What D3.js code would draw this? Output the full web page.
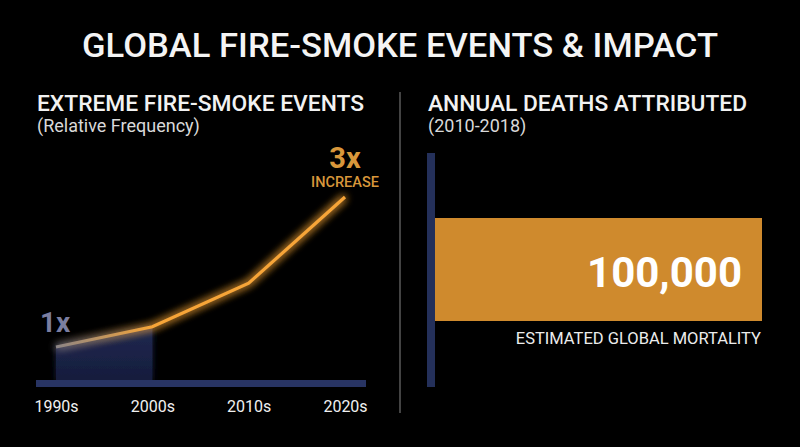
<!DOCTYPE html>
<html><head><meta charset="utf-8">
<script src="https://cdn.jsdelivr.net/npm/d3@7"></script>
<style>html,body{margin:0;padding:0;background:#000;}svg{display:block;font-family:Roboto,"Noto Sans",sans-serif;}</style>
</head><body>
<script>
const decades = ["1990s","2000s","2010s","2020s"];
const relFrequency = [1, 1.27, 1.85, 3];
const deathsCategory = ["Estimated global mortality"];
const deathsValue = [100000];

const W = 800, H = 447;
const svg = d3.select("body").append("svg").attr("width", W).attr("height", H);
svg.append("rect").attr("width", W).attr("height", H).attr("fill", "#000");

const defs = svg.append("defs");
const glow = defs.append("filter").attr("id","glow").attr("x","-20%").attr("y","-20%").attr("width","140%").attr("height","140%");
glow.append("feGaussianBlur").attr("stdDeviation", 4).attr("result","b");
const m = glow.append("feMerge");
m.append("feMergeNode").attr("in","b");
m.append("feMergeNode").attr("in","b");
m.append("feMergeNode").attr("in","SourceGraphic");

const softGlow = defs.append("filter").attr("id","soft").attr("x","-20%").attr("y","-20%").attr("width","140%").attr("height","140%");
softGlow.append("feGaussianBlur").attr("stdDeviation", 3).attr("result","b");
const m2 = softGlow.append("feMerge");
m2.append("feMergeNode").attr("in","b");
m2.append("feMergeNode").attr("in","SourceGraphic");

const areaGrad = defs.append("linearGradient").attr("id","areaGrad").attr("x1",0).attr("y1",0).attr("x2",0).attr("y2",1);
areaGrad.append("stop").attr("offset","0%").attr("stop-color","#1f2851");
areaGrad.append("stop").attr("offset","100%").attr("stop-color","#161d3c");

// Title
svg.append("text").attr("x", 400).attr("y", 57).attr("text-anchor","middle")
  .attr("fill","#f4f4f4").attr("font-size", 34).attr("font-weight", 500).attr("textLength", 636).attr("lengthAdjust","spacingAndGlyphs")
  .text("GLOBAL FIRE-SMOKE EVENTS & IMPACT");

// Left panel headings
svg.append("text").attr("x", 37).attr("y", 111).attr("fill","#f2f2f2").attr("font-size", 22).attr("font-weight", 500)
  .attr("textLength", 327).attr("lengthAdjust","spacingAndGlyphs").text("EXTREME FIRE-SMOKE EVENTS");
svg.append("text").attr("x", 37).attr("y", 132).attr("fill","#d9d9d9").attr("font-size", 18)
  .text("(Relative Frequency)");

// Left chart scales
const x = d3.scalePoint().domain(decades).range([56, 345]);
const y = d3.scaleLinear().domain([1, 3]).range([347, 197]);
const axisY = 380;

const pts = decades.map((d,i)=>({d, v: relFrequency[i]}));

// shaded baseline area (1990s-2000s)
const area = d3.area().x(p=>x(p.d)).y0(axisY).y1(p=>y(p.v));
svg.append("path").datum(pts.slice(0,2)).attr("d", area).attr("fill","url(#areaGrad)").attr("filter","url(#soft)");

// axis bar
svg.append("rect").attr("x", 36).attr("y", axisY).attr("width", 330).attr("height", 7).attr("fill","#283463");

// axis labels
const xAxis = d3.axisBottom(x).tickSize(0).tickPadding(0);
const gx = svg.append("g").attr("transform", `translate(0,${axisY+7})`).call(xAxis);
gx.select(".domain").remove();
gx.selectAll("text").attr("fill","#f0f0f0").attr("font-size", 16).attr("font-family","Roboto,sans-serif").attr("dy", 0).attr("y", 25);

// line gradient
const lineGrad = defs.append("linearGradient").attr("id","lineGrad").attr("gradientUnits","userSpaceOnUse")
  .attr("x1", x(decades[0])).attr("y1",0).attr("x2", x(decades[1])).attr("y2",0);
lineGrad.append("stop").attr("offset","0%").attr("stop-color","#8c8586");
lineGrad.append("stop").attr("offset","100%").attr("stop-color","#f7a537");

const line = d3.line().x(p=>x(p.d)).y(p=>y(p.v));
svg.append("path").datum(pts).attr("d", line).attr("fill","none").attr("stroke","url(#lineGrad)")
  .attr("stroke-width", 3.2).attr("stroke-linejoin","miter").attr("filter","url(#glow)");

// annotations
svg.append("text").attr("x", 40).attr("y", 332).attr("fill","#7b7ea0").attr("font-size", 28).attr("font-weight", 700).text("1x");
svg.append("text").attr("x", 345).attr("y", 168).attr("text-anchor","middle").attr("fill","#d8973b").attr("font-size", 29).attr("font-weight", 700).text("3x");
svg.append("text").attr("x", 345).attr("y", 187).attr("text-anchor","middle").attr("fill","#d8973b").attr("font-size", 14.5).attr("font-weight", 500).text("INCREASE");

// divider
svg.append("line").attr("x1", 400).attr("x2", 400).attr("y1", 92).attr("y2", 413).attr("stroke","#5a5a5a").attr("stroke-width", 1.5);

// Right panel headings
svg.append("text").attr("x", 428).attr("y", 111).attr("fill","#f2f2f2").attr("font-size", 22).attr("font-weight", 500)
  .attr("textLength", 319).attr("lengthAdjust","spacingAndGlyphs").text("ANNUAL DEATHS ATTRIBUTED");
svg.append("text").attr("x", 428).attr("y", 132).attr("fill","#d9d9d9").attr("font-size", 18).text("(2010-2018)");

// Right chart
const xr = d3.scaleLinear().domain([0, 100000]).range([435, 762]);
const yr = d3.scaleBand().domain(deathsCategory).range([218, 321]).padding(0);
svg.append("rect").attr("x", 427).attr("y", 153).attr("width", 8).attr("height", 234).attr("fill","#24305a");
svg.selectAll("rect.bar").data(deathsValue).join("rect").attr("class","bar")
  .attr("x", xr(0)).attr("y", yr(deathsCategory[0])).attr("width", d=>xr(d)-xr(0)).attr("height", yr.bandwidth())
  .attr("fill","#cf8a2d");
svg.selectAll("text.val").data(deathsValue).join("text").attr("class","val")
  .attr("x", d=>xr(d)-20).attr("y", 287).attr("text-anchor","end").attr("fill","#fff")
  .attr("font-size", 42).attr("font-weight", 700).text(d=>d3.format(",")(d));
svg.append("text").attr("x", 761).attr("y", 344).attr("text-anchor","end").attr("fill","#ececec").attr("font-size", 16.5)
  .text(deathsCategory[0].toUpperCase());
</script>
</body></html>
